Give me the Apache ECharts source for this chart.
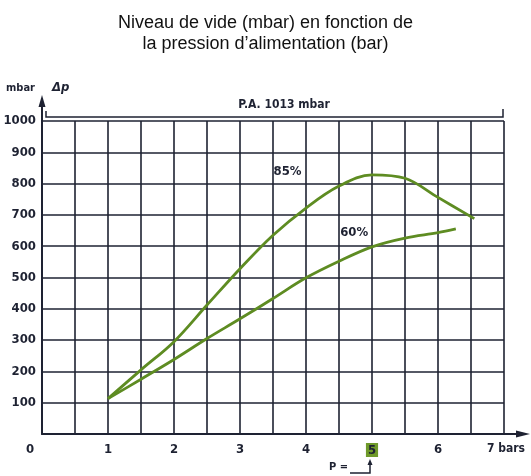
<!DOCTYPE html>
<html>
<head>
<meta charset="UTF-8">
<title>Niveau de vide</title>
<script src="https://cdn.jsdelivr.net/npm/echarts@6/dist/echarts.min.js"></script>
<style>
html, body { margin: 0; padding: 0; background: #fff; }
#chart { width: 531px; height: 476px; }
</style>
</head>
<body>
<div id="chart"></div>
<script>
// courbes (pression en bar, vide en mbar)
var p85 = [1, 1.5, 2, 2.5, 3, 3.5, 4, 4.5, 5, 5.5, 6, 6.55];
var v85 = [113, 205, 295, 412, 528, 635, 722, 792, 828, 817, 756, 688];
var p60 = [1, 1.5, 2, 2.5, 3, 3.5, 4, 4.5, 5, 5.5, 6, 6.27];
var v60 = [113, 175, 238, 305, 368, 433, 499, 552, 598, 626, 643, 655];
var labels85 = {x: 3.72, y: 837, text: '85%'};
var labels60 = {x: 4.73, y: 642, text: '60%'};
var paLevel = 1013;
var xTicks = [0, 1, 2, 3, 4, 5, 6, 7];
var highlightP = 5;

var ink = '#1e2232';
var green = '#5e8c22';
var lblFont = 'DejaVu Sans Condensed';

function pairs(xs, ys) {
    var out = [];
    for (var i = 0; i < xs.length; i++) out.push([xs[i], ys[i]]);
    return out;
}

var chart = echarts.init(document.getElementById('chart'));
var option = {
    animation: false,
    title: {
        text: 'Niveau de vide (mbar) en fonction de\nla pression d\u2019alimentation (bar)',
        left: 'center', top: 8,
        textStyle: {fontFamily: 'Liberation Sans', fontSize: 18, fontWeight: 'normal', color: '#111', lineHeight: 21}
    },
    grid: {left: 42, right: 27, top: 121, bottom: 42, outerBoundsMode: 'none'},
    xAxis: {
        type: 'value', min: 0, max: 7, interval: 0.5,
        axisLine: {show: true, lineStyle: {color: ink, width: 2}},
        axisTick: {show: false},
        splitLine: {show: true, lineStyle: {color: ink, width: 1.6}},
        axisLabel: {
            margin: 9, color: ink, fontFamily: lblFont, fontWeight: 'bold', fontSize: 13,
            hideOverlap: false,
            formatter: function (v) {
                if (xTicks.indexOf(v) < 0) return '';
                if (v === 0) return '{z|0}';
                if (v === 7) return '{e|7 bars}';
                if (v === highlightP) return '{h|' + v + '}';
                return String(v);
            },
            rich: {
                z: {padding: [0, 24, 0, 0], fontFamily: lblFont, fontWeight: 'bold', fontSize: 13, color: ink},
                e: {padding: [0, 0, 0, 4], fontFamily: lblFont, fontWeight: 'bold', fontSize: 12, color: ink},
                h: {backgroundColor: '#6f9a2a', padding: [1, 2, 0, 2], fontFamily: lblFont, fontWeight: 'bold', fontSize: 13, color: ink}
            }
        }
    },
    yAxis: {
        type: 'value', min: 0, max: 1000, interval: 100,
        axisLine: {show: true, lineStyle: {color: ink, width: 2}},
        axisTick: {show: false},
        splitLine: {show: true, lineStyle: {color: ink, width: 1.6}},
        axisLabel: {
            margin: 6, color: ink, fontFamily: lblFont, fontWeight: 'bold', fontSize: 13,
            formatter: function (v) { return v === 0 ? '' : String(v); }
        }
    },
    series: [
        {
            name: '85%', type: 'line', smooth: 0.35, symbol: 'none',
            data: pairs(p85, v85),
            lineStyle: {color: green, width: 2.8},
            markPoint: {
                symbol: 'circle', symbolSize: 0,
                label: {show: true, formatter: labels85.text, color: ink, fontFamily: lblFont, fontWeight: 'bold', fontSize: 13},
                data: [{coord: [labels85.x, labels85.y]}]
            }
        },
        {
            name: '60%', type: 'line', smooth: 0.35, symbol: 'none',
            data: pairs(p60, v60),
            lineStyle: {color: green, width: 2.8},
            markPoint: {
                symbol: 'circle', symbolSize: 0,
                label: {show: true, formatter: labels60.text, color: ink, fontFamily: lblFont, fontWeight: 'bold', fontSize: 13},
                data: [{coord: [labels60.x, labels60.y]}]
            }
        }
    ]
};
chart.setOption(option);

// décor : flèches des axes, repère P.A. et indicateur P =
var origin = chart.convertToPixel({gridIndex: 0}, [0, 0]);
var yTop = chart.convertToPixel({gridIndex: 0}, [0, 1000]);
var xEnd = chart.convertToPixel({gridIndex: 0}, [7, 0]);
var pa = chart.convertToPixel({gridIndex: 0}, [0, paLevel]);
var pHi = chart.convertToPixel({gridIndex: 0}, [highlightP, 0]);
var lineSt = {stroke: ink, lineWidth: 2};

chart.setOption({
    graphic: [
        {type: 'line', shape: {x1: origin[0], y1: yTop[1], x2: origin[0], y2: yTop[1] - 18}, style: lineSt},
        {type: 'polygon', shape: {points: [[origin[0], yTop[1] - 26], [origin[0] - 3.5, yTop[1] - 14], [origin[0] + 3.5, yTop[1] - 14]]}, style: {fill: ink}},
        {type: 'line', shape: {x1: xEnd[0], y1: origin[1], x2: xEnd[0] + 14, y2: origin[1]}, style: lineSt},
        {type: 'polygon', shape: {points: [[xEnd[0] + 26, origin[1]], [xEnd[0] + 12, origin[1] - 3.5], [xEnd[0] + 12, origin[1] + 3.5]]}, style: {fill: ink}},
        {type: 'polyline', shape: {points: [[origin[0] + 4, pa[1] - 6], [origin[0] + 4, pa[1]], [xEnd[0] - 1, pa[1]], [xEnd[0] - 1, pa[1] - 8]]}, style: {stroke: ink, lineWidth: 1.5, fill: null}},
        {type: 'text', x: 284, y: pa[1] - 6, style: {text: 'P.A. 1013 mbar', fill: ink, font: 'bold 12px "DejaVu Sans Condensed"', align: 'center', verticalAlign: 'bottom'}},
        {type: 'text', x: 6, y: 88, style: {text: 'mbar', fill: ink, font: 'bold 11px "DejaVu Sans Condensed"', verticalAlign: 'middle'}},
        {type: 'text', x: 52, y: 88, style: {text: '\u0394p', fill: ink, font: 'italic bold 13px "DejaVu Sans Condensed"', verticalAlign: 'middle'}},
        {type: 'text', x: 329, y: 467, style: {text: 'P =', fill: ink, font: 'bold 11px "DejaVu Sans Condensed"', verticalAlign: 'middle'}},
        {type: 'polyline', shape: {points: [[350, 473], [pHi[0] - 2, 473], [pHi[0] - 2, 464]]}, style: {stroke: ink, lineWidth: 1.5, fill: null}},
        {type: 'polygon', shape: {points: [[pHi[0] - 2, 459], [pHi[0] - 4.5, 465], [pHi[0] + 0.5, 465]]}, style: {fill: ink}}
    ]
});
</script>
</body>
</html>
